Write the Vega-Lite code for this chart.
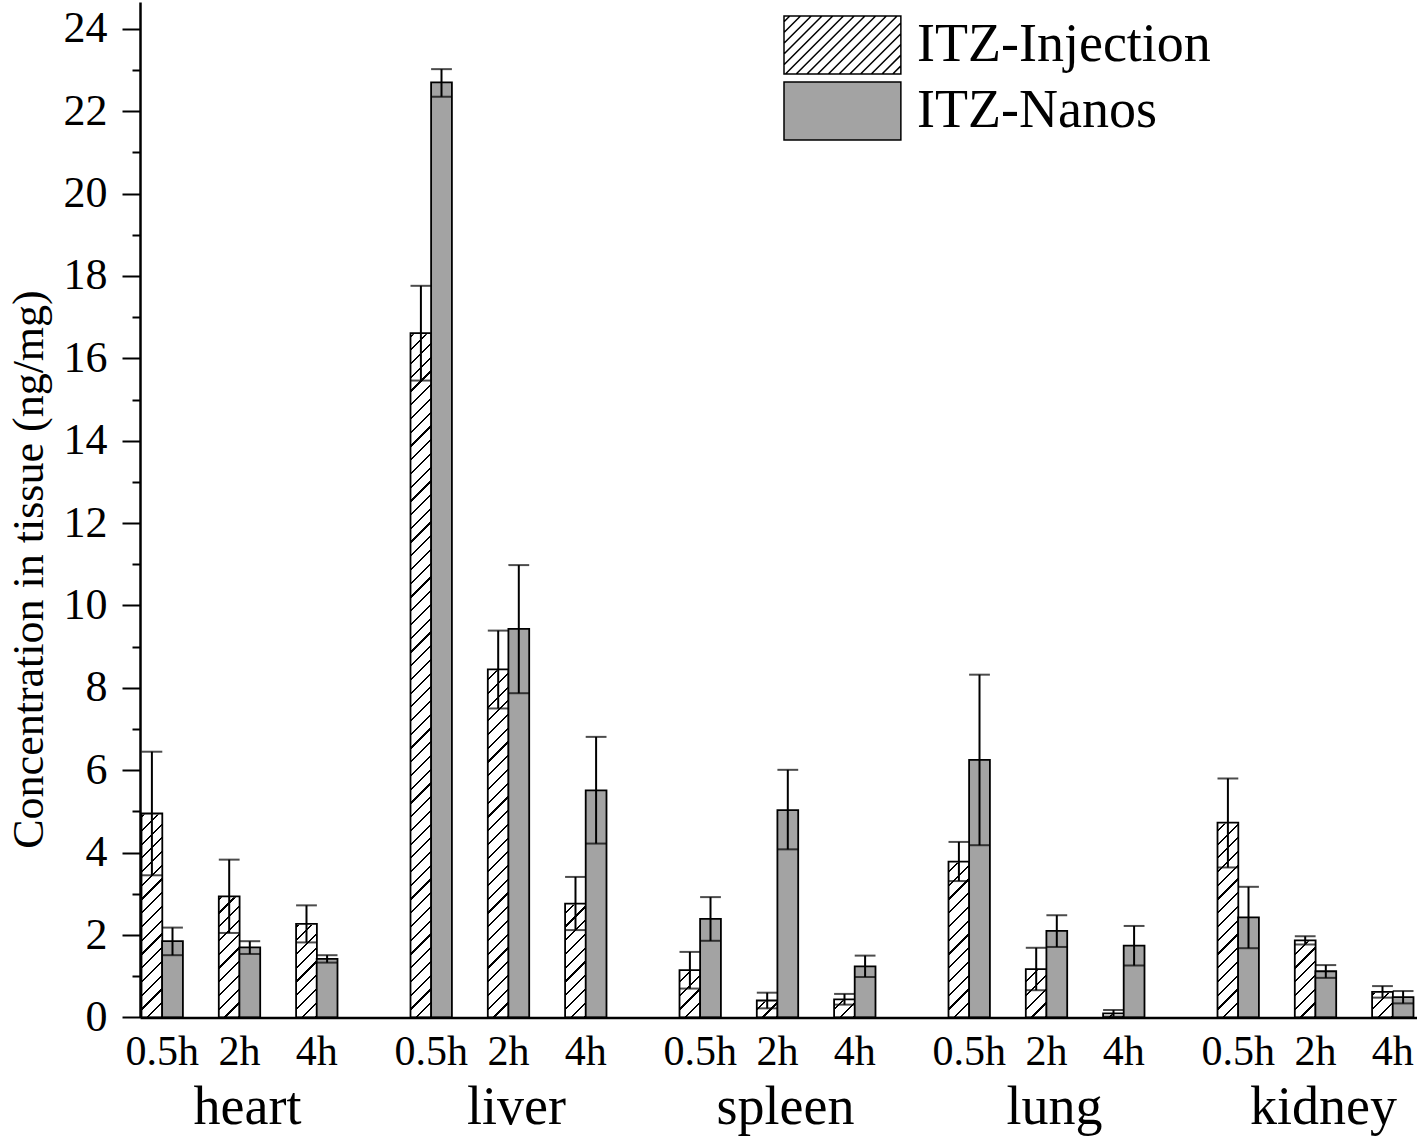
{
  "$schema": "https://vega.github.io/schema/vega-lite/v6.json",
  "width": 1277,
  "height": 1015.4,
  "autosize": {"type": "none"},
  "padding": {"left": 140, "top": 2, "right": 0, "bottom": 121.6},
  "background": "white",
  "config": {
    "view": {"stroke": null},
    "font": "Liberation Serif",
    "axis": {"labelFont": "Liberation Serif", "titleFont": "Liberation Serif", "labelColor": "black", "titleColor": "black", "domainColor": "black", "tickColor": "black", "grid": false}
  },
  "data": {
    "values": [
      {"organ": "heart", "time": "0.5h", "series": "ITZ-Injection", "value": 4.95, "lo": 3.45, "hi": 6.45},
      {"organ": "heart", "time": "0.5h", "series": "ITZ-Nanos", "value": 1.85, "lo": 1.51, "hi": 2.18},
      {"organ": "heart", "time": "2h", "series": "ITZ-Injection", "value": 2.94, "lo": 2.05, "hi": 3.83},
      {"organ": "heart", "time": "2h", "series": "ITZ-Nanos", "value": 1.70, "lo": 1.54, "hi": 1.85},
      {"organ": "heart", "time": "4h", "series": "ITZ-Injection", "value": 2.27, "lo": 1.82, "hi": 2.72},
      {"organ": "heart", "time": "4h", "series": "ITZ-Nanos", "value": 1.42, "lo": 1.33, "hi": 1.51},
      {"organ": "liver", "time": "0.5h", "series": "ITZ-Injection", "value": 16.61, "lo": 15.46, "hi": 17.76},
      {"organ": "liver", "time": "0.5h", "series": "ITZ-Nanos", "value": 22.70, "lo": 22.35, "hi": 23.02},
      {"organ": "liver", "time": "2h", "series": "ITZ-Injection", "value": 8.45, "lo": 7.50, "hi": 9.39},
      {"organ": "liver", "time": "2h", "series": "ITZ-Nanos", "value": 9.43, "lo": 7.87, "hi": 10.98},
      {"organ": "liver", "time": "4h", "series": "ITZ-Injection", "value": 2.76, "lo": 2.12, "hi": 3.41},
      {"organ": "liver", "time": "4h", "series": "ITZ-Nanos", "value": 5.51, "lo": 4.22, "hi": 6.81},
      {"organ": "spleen", "time": "0.5h", "series": "ITZ-Injection", "value": 1.15, "lo": 0.70, "hi": 1.59},
      {"organ": "spleen", "time": "0.5h", "series": "ITZ-Nanos", "value": 2.39, "lo": 1.86, "hi": 2.92},
      {"organ": "spleen", "time": "2h", "series": "ITZ-Injection", "value": 0.41, "lo": 0.22, "hi": 0.60},
      {"organ": "spleen", "time": "2h", "series": "ITZ-Nanos", "value": 5.03, "lo": 4.08, "hi": 6.01},
      {"organ": "spleen", "time": "4h", "series": "ITZ-Injection", "value": 0.44, "lo": 0.31, "hi": 0.57},
      {"organ": "spleen", "time": "4h", "series": "ITZ-Nanos", "value": 1.24, "lo": 0.98, "hi": 1.50},
      {"organ": "lung", "time": "0.5h", "series": "ITZ-Injection", "value": 3.78, "lo": 3.31, "hi": 4.26},
      {"organ": "lung", "time": "0.5h", "series": "ITZ-Nanos", "value": 6.25, "lo": 4.18, "hi": 8.32},
      {"organ": "lung", "time": "2h", "series": "ITZ-Injection", "value": 1.17, "lo": 0.66, "hi": 1.69},
      {"organ": "lung", "time": "2h", "series": "ITZ-Nanos", "value": 2.10, "lo": 1.71, "hi": 2.48},
      {"organ": "lung", "time": "4h", "series": "ITZ-Injection", "value": 0.10, "lo": 0.02, "hi": 0.18},
      {"organ": "lung", "time": "4h", "series": "ITZ-Nanos", "value": 1.74, "lo": 1.26, "hi": 2.22},
      {"organ": "kidney", "time": "0.5h", "series": "ITZ-Injection", "value": 4.73, "lo": 3.64, "hi": 5.80},
      {"organ": "kidney", "time": "0.5h", "series": "ITZ-Nanos", "value": 2.43, "lo": 1.68, "hi": 3.17},
      {"organ": "kidney", "time": "2h", "series": "ITZ-Injection", "value": 1.87, "lo": 1.77, "hi": 1.97},
      {"organ": "kidney", "time": "2h", "series": "ITZ-Nanos", "value": 1.12, "lo": 0.96, "hi": 1.27},
      {"organ": "kidney", "time": "4h", "series": "ITZ-Injection", "value": 0.62, "lo": 0.48, "hi": 0.76},
      {"organ": "kidney", "time": "4h", "series": "ITZ-Nanos", "value": 0.49, "lo": 0.34, "hi": 0.64}
    ]
  },
  "encoding": {
    "x": {
      "field": "organ", "type": "nominal",
      "sort": ["heart", "liver", "spleen", "lung", "kidney"],
      "scale": {"paddingInner": 0.2714, "paddingOuter": 0.0093, "align": 0.3},
      "axis": {"title": null, "ticks": false, "tickSize": 0, "labelAngle": 0, "labelFontSize": 54, "labelPadding": 106, "labelBaseline": "alphabetic", "labelOffset": 8, "domainWidth": 2.5, "zindex": 2}
    },
    "y": {
      "field": "value", "type": "quantitative",
      "scale": {"domain": [0, 24.65], "nice": false},
      "axis": {
        "title": "Concentration in tissue (ng/mg)",
        "titleFontSize": 44, "titleFontWeight": "normal", "titlePadding": 12, "titleY": 567,
        "values": [0, 1, 2, 3, 4, 5, 6, 7, 8, 9, 10, 11, 12, 13, 14, 15, 16, 17, 18, 19, 20, 21, 22, 23, 24],
        "labelExpr": "datum.value % 2 === 0 ? datum.label : ''",
        "tickSize": {"condition": {"test": "datum.value % 2 === 0", "value": 18}, "value": 8},
        "tickWidth": 2, "domainWidth": 2.5, "labelFontSize": 44, "labelPadding": 15, "zindex": 2
      }
    }
  },
  "resolve": {"scale": {"xOffset": "independent"}},
  "layer": [
    {
      "transform": [{"filter": "datum.series === 'ITZ-Injection'"}],
      "encoding": {
        "xOffset": {"field": "time", "type": "nominal", "scale": {"paddingInner": 0.731, "paddingOuter": 0.1333, "align": 0}}
      },
      "layer": [
        {
          "mark": {
            "type": "bar",
            "fill": {
              "gradient": "linear", "x1": 0, "y1": 0, "x2": 0.029441, "y2": 1.05,
              "stops": [
                {"offset": 0, "color": "white"},
                {"offset": 0.0060, "color": "white"}, {"offset": 0.0060, "color": "black"}, {"offset": 0.0088, "color": "black"}, {"offset": 0.0088, "color": "white"},
                {"offset": 0.0236, "color": "white"}, {"offset": 0.0236, "color": "black"}, {"offset": 0.0264, "color": "black"}, {"offset": 0.0264, "color": "white"},
                {"offset": 0.0412, "color": "white"}, {"offset": 0.0412, "color": "black"}, {"offset": 0.0440, "color": "black"}, {"offset": 0.0440, "color": "white"},
                {"offset": 0.0589, "color": "white"}, {"offset": 0.0589, "color": "black"}, {"offset": 0.0617, "color": "black"}, {"offset": 0.0617, "color": "white"},
                {"offset": 0.0765, "color": "white"}, {"offset": 0.0765, "color": "black"}, {"offset": 0.0793, "color": "black"}, {"offset": 0.0793, "color": "white"},
                {"offset": 0.0941, "color": "white"}, {"offset": 0.0941, "color": "black"}, {"offset": 0.0969, "color": "black"}, {"offset": 0.0969, "color": "white"},
                {"offset": 0.1117, "color": "white"}, {"offset": 0.1117, "color": "black"}, {"offset": 0.1145, "color": "black"}, {"offset": 0.1145, "color": "white"},
                {"offset": 0.1294, "color": "white"}, {"offset": 0.1294, "color": "black"}, {"offset": 0.1322, "color": "black"}, {"offset": 0.1322, "color": "white"},
                {"offset": 0.1470, "color": "white"}, {"offset": 0.1470, "color": "black"}, {"offset": 0.1498, "color": "black"}, {"offset": 0.1498, "color": "white"},
                {"offset": 0.1646, "color": "white"}, {"offset": 0.1646, "color": "black"}, {"offset": 0.1674, "color": "black"}, {"offset": 0.1674, "color": "white"},
                {"offset": 0.1822, "color": "white"}, {"offset": 0.1822, "color": "black"}, {"offset": 0.1850, "color": "black"}, {"offset": 0.1850, "color": "white"},
                {"offset": 0.1998, "color": "white"}, {"offset": 0.1998, "color": "black"}, {"offset": 0.2026, "color": "black"}, {"offset": 0.2026, "color": "white"},
                {"offset": 0.2175, "color": "white"}, {"offset": 0.2175, "color": "black"}, {"offset": 0.2203, "color": "black"}, {"offset": 0.2203, "color": "white"},
                {"offset": 0.2351, "color": "white"}, {"offset": 0.2351, "color": "black"}, {"offset": 0.2379, "color": "black"}, {"offset": 0.2379, "color": "white"},
                {"offset": 0.2527, "color": "white"}, {"offset": 0.2527, "color": "black"}, {"offset": 0.2555, "color": "black"}, {"offset": 0.2555, "color": "white"},
                {"offset": 0.2703, "color": "white"}, {"offset": 0.2703, "color": "black"}, {"offset": 0.2731, "color": "black"}, {"offset": 0.2731, "color": "white"},
                {"offset": 0.2880, "color": "white"}, {"offset": 0.2880, "color": "black"}, {"offset": 0.2908, "color": "black"}, {"offset": 0.2908, "color": "white"},
                {"offset": 0.3056, "color": "white"}, {"offset": 0.3056, "color": "black"}, {"offset": 0.3084, "color": "black"}, {"offset": 0.3084, "color": "white"},
                {"offset": 0.3232, "color": "white"}, {"offset": 0.3232, "color": "black"}, {"offset": 0.3260, "color": "black"}, {"offset": 0.3260, "color": "white"},
                {"offset": 0.3408, "color": "white"}, {"offset": 0.3408, "color": "black"}, {"offset": 0.3436, "color": "black"}, {"offset": 0.3436, "color": "white"},
                {"offset": 0.3584, "color": "white"}, {"offset": 0.3584, "color": "black"}, {"offset": 0.3612, "color": "black"}, {"offset": 0.3612, "color": "white"},
                {"offset": 0.3761, "color": "white"}, {"offset": 0.3761, "color": "black"}, {"offset": 0.3789, "color": "black"}, {"offset": 0.3789, "color": "white"},
                {"offset": 0.3937, "color": "white"}, {"offset": 0.3937, "color": "black"}, {"offset": 0.3965, "color": "black"}, {"offset": 0.3965, "color": "white"},
                {"offset": 0.4113, "color": "white"}, {"offset": 0.4113, "color": "black"}, {"offset": 0.4141, "color": "black"}, {"offset": 0.4141, "color": "white"},
                {"offset": 0.4289, "color": "white"}, {"offset": 0.4289, "color": "black"}, {"offset": 0.4317, "color": "black"}, {"offset": 0.4317, "color": "white"},
                {"offset": 0.4466, "color": "white"}, {"offset": 0.4466, "color": "black"}, {"offset": 0.4494, "color": "black"}, {"offset": 0.4494, "color": "white"},
                {"offset": 0.4642, "color": "white"}, {"offset": 0.4642, "color": "black"}, {"offset": 0.4670, "color": "black"}, {"offset": 0.4670, "color": "white"},
                {"offset": 0.4818, "color": "white"}, {"offset": 0.4818, "color": "black"}, {"offset": 0.4846, "color": "black"}, {"offset": 0.4846, "color": "white"},
                {"offset": 0.4994, "color": "white"}, {"offset": 0.4994, "color": "black"}, {"offset": 0.5022, "color": "black"}, {"offset": 0.5022, "color": "white"},
                {"offset": 0.5170, "color": "white"}, {"offset": 0.5170, "color": "black"}, {"offset": 0.5198, "color": "black"}, {"offset": 0.5198, "color": "white"},
                {"offset": 0.5347, "color": "white"}, {"offset": 0.5347, "color": "black"}, {"offset": 0.5375, "color": "black"}, {"offset": 0.5375, "color": "white"},
                {"offset": 0.5523, "color": "white"}, {"offset": 0.5523, "color": "black"}, {"offset": 0.5551, "color": "black"}, {"offset": 0.5551, "color": "white"},
                {"offset": 0.5699, "color": "white"}, {"offset": 0.5699, "color": "black"}, {"offset": 0.5727, "color": "black"}, {"offset": 0.5727, "color": "white"},
                {"offset": 0.5875, "color": "white"}, {"offset": 0.5875, "color": "black"}, {"offset": 0.5903, "color": "black"}, {"offset": 0.5903, "color": "white"},
                {"offset": 0.6051, "color": "white"}, {"offset": 0.6051, "color": "black"}, {"offset": 0.6079, "color": "black"}, {"offset": 0.6079, "color": "white"},
                {"offset": 0.6228, "color": "white"}, {"offset": 0.6228, "color": "black"}, {"offset": 0.6256, "color": "black"}, {"offset": 0.6256, "color": "white"},
                {"offset": 0.6404, "color": "white"}, {"offset": 0.6404, "color": "black"}, {"offset": 0.6432, "color": "black"}, {"offset": 0.6432, "color": "white"},
                {"offset": 0.6580, "color": "white"}, {"offset": 0.6580, "color": "black"}, {"offset": 0.6608, "color": "black"}, {"offset": 0.6608, "color": "white"},
                {"offset": 0.6756, "color": "white"}, {"offset": 0.6756, "color": "black"}, {"offset": 0.6784, "color": "black"}, {"offset": 0.6784, "color": "white"},
                {"offset": 0.6933, "color": "white"}, {"offset": 0.6933, "color": "black"}, {"offset": 0.6961, "color": "black"}, {"offset": 0.6961, "color": "white"},
                {"offset": 0.7109, "color": "white"}, {"offset": 0.7109, "color": "black"}, {"offset": 0.7137, "color": "black"}, {"offset": 0.7137, "color": "white"},
                {"offset": 0.7285, "color": "white"}, {"offset": 0.7285, "color": "black"}, {"offset": 0.7313, "color": "black"}, {"offset": 0.7313, "color": "white"},
                {"offset": 0.7461, "color": "white"}, {"offset": 0.7461, "color": "black"}, {"offset": 0.7489, "color": "black"}, {"offset": 0.7489, "color": "white"},
                {"offset": 0.7637, "color": "white"}, {"offset": 0.7637, "color": "black"}, {"offset": 0.7665, "color": "black"}, {"offset": 0.7665, "color": "white"},
                {"offset": 0.7814, "color": "white"}, {"offset": 0.7814, "color": "black"}, {"offset": 0.7842, "color": "black"}, {"offset": 0.7842, "color": "white"},
                {"offset": 0.7990, "color": "white"}, {"offset": 0.7990, "color": "black"}, {"offset": 0.8018, "color": "black"}, {"offset": 0.8018, "color": "white"},
                {"offset": 0.8166, "color": "white"}, {"offset": 0.8166, "color": "black"}, {"offset": 0.8194, "color": "black"}, {"offset": 0.8194, "color": "white"},
                {"offset": 0.8342, "color": "white"}, {"offset": 0.8342, "color": "black"}, {"offset": 0.8370, "color": "black"}, {"offset": 0.8370, "color": "white"},
                {"offset": 0.8519, "color": "white"}, {"offset": 0.8519, "color": "black"}, {"offset": 0.8547, "color": "black"}, {"offset": 0.8547, "color": "white"},
                {"offset": 0.8695, "color": "white"}, {"offset": 0.8695, "color": "black"}, {"offset": 0.8723, "color": "black"}, {"offset": 0.8723, "color": "white"},
                {"offset": 0.8871, "color": "white"}, {"offset": 0.8871, "color": "black"}, {"offset": 0.8899, "color": "black"}, {"offset": 0.8899, "color": "white"},
                {"offset": 0.9047, "color": "white"}, {"offset": 0.9047, "color": "black"}, {"offset": 0.9075, "color": "black"}, {"offset": 0.9075, "color": "white"},
                {"offset": 0.9223, "color": "white"}, {"offset": 0.9223, "color": "black"}, {"offset": 0.9251, "color": "black"}, {"offset": 0.9251, "color": "white"},
                {"offset": 0.9400, "color": "white"}, {"offset": 0.9400, "color": "black"}, {"offset": 0.9428, "color": "black"}, {"offset": 0.9428, "color": "white"},
                {"offset": 0.9576, "color": "white"}, {"offset": 0.9576, "color": "black"}, {"offset": 0.9604, "color": "black"}, {"offset": 0.9604, "color": "white"},
                {"offset": 0.9752, "color": "white"}, {"offset": 0.9752, "color": "black"}, {"offset": 0.9780, "color": "black"}, {"offset": 0.9780, "color": "white"},
                {"offset": 1, "color": "white"}
              ]
            }
          },
          "encoding": {"y": {"datum": 0}, "y2": {"datum": 18}}
        },
        {"mark": {"type": "bar", "fill": "white", "stroke": "white", "strokeWidth": 2}, "encoding": {"y2": {"datum": 18}}},
        {"mark": {"type": "bar", "fill": "transparent", "stroke": "black", "strokeWidth": 1.8}},
        {"mark": {"type": "rule", "color": "black", "strokeWidth": 2}, "encoding": {"y": {"field": "lo", "type": "quantitative"}, "y2": {"field": "hi"}}},
        {"mark": {"type": "tick", "color": "black", "thickness": 2, "size": 20.8, "orient": "horizontal"}, "encoding": {"y": {"field": "hi", "type": "quantitative"}}},
        {"mark": {"type": "tick", "color": "black", "thickness": 2, "size": 20.8, "orient": "horizontal"}, "encoding": {"y": {"field": "lo", "type": "quantitative"}}}
      ]
    },
    {
      "transform": [{"filter": "datum.series === 'ITZ-Nanos'"}],
      "encoding": {
        "xOffset": {"field": "time", "type": "nominal", "scale": {"paddingInner": 0.731, "paddingOuter": 0.1333, "align": 1}}
      },
      "layer": [
        {
          "mark": {"type": "bar", "stroke": "black", "strokeWidth": 1.8},
          "encoding": {
            "fill": {
              "field": "series", "type": "nominal",
              "scale": {"domain": ["ITZ-Injection", "ITZ-Nanos"], "range": ["white", "#a3a3a3"]},
              "legend": {
                "title": null, "orient": "none", "legendX": 643, "legendY": 13, "direction": "vertical",
                "padding": 0, "rowPadding": 2,
                "symbolSize": 3364,
                "symbolType": {"expr": "datum.value === 'ITZ-Injection' ? 'M-1,-1H3.03V1H-1Z M-1,-0.8L-0.8,-1 M-1,-0.43L-0.43,-1 M-1,-0.06L-0.06,-1 M-1,0.31L0.31,-1 M-1,0.68L0.68,-1 M-0.95,1L1.05,-1 M-0.58,1L1.42,-1 M-0.21,1L1.79,-1 M0.16,1L2.16,-1 M0.53,1L2.53,-1 M0.9,1L2.9,-1 M1.27,1L3.03,-0.76 M1.64,1L3.03,-0.39 M2.01,1L3.03,-0.02 M2.38,1L3.03,0.35 M2.75,1L3.03,0.72' : 'M-1,-1H3.03V1H-1Z'"},
                "symbolStrokeColor": "black", "symbolStrokeWidth": 1.5,
                "labelFont": "Liberation Serif", "labelFontSize": 54, "labelColor": "black", "labelOffset": 74, "labelLimit": 400
              }
            }
          }
        },
        {"mark": {"type": "rule", "color": "black", "strokeWidth": 2}, "encoding": {"y": {"field": "lo", "type": "quantitative"}, "y2": {"field": "hi"}}},
        {"mark": {"type": "tick", "color": "black", "thickness": 2, "size": 20.8, "orient": "horizontal"}, "encoding": {"y": {"field": "hi", "type": "quantitative"}}},
        {"mark": {"type": "tick", "color": "black", "thickness": 2, "size": 20.8, "orient": "horizontal"}, "encoding": {"y": {"field": "lo", "type": "quantitative"}}}
      ]
    },
    {
      "transform": [{"filter": "datum.series === 'ITZ-Injection'"}],
      "mark": {"type": "text", "font": "Liberation Serif", "fontSize": 42, "color": "black", "baseline": "alphabetic", "dy": 48},
      "encoding": {
        "xOffset": {"field": "time", "type": "nominal", "scale": {"type": "point", "padding": 0.269, "align": 0.5}},
        "y": {"datum": 0},
        "text": {"field": "time"}
      }
    }
  ]
}
